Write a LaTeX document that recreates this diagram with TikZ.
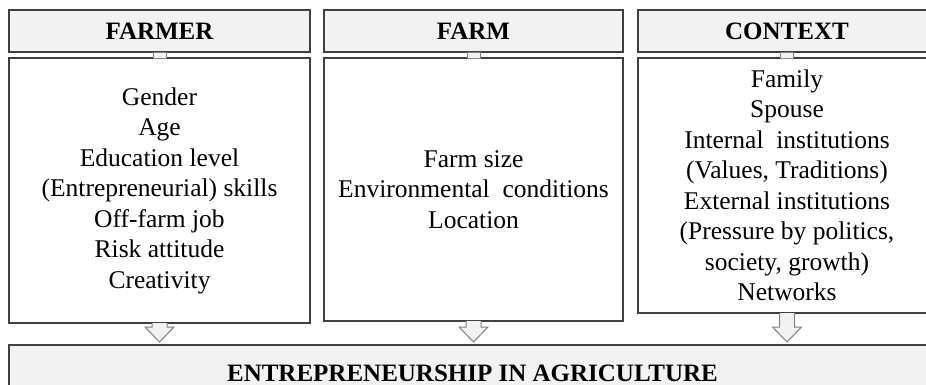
\documentclass[tikz,border=0pt]{standalone}
\usepackage{fontspec}
\setmainfont{Liberation Serif}
\usetikzlibrary{calc}

\definecolor{boxline}{HTML}{404040}
\definecolor{headfill}{HTML}{F2F2F2}
\definecolor{arrowline}{HTML}{808080}

\begin{document}
\begin{tikzpicture}[x=1pt,y=-1pt,
  every node/.style={inner sep=0pt,outer sep=0pt},
  headbox/.style={draw=boxline,fill=headfill,line width=1.1pt,minimum height=42pt,
    font=\fontsize{25}{30}\selectfont\bfseries},
  itembox/.style={draw=boxline,fill=white,line width=1.1pt,align=center,
    font=\fontsize{25.5}{30.5}\selectfont},
  blockarrow/.style={draw=arrowline,fill=headfill,line width=1pt,line join=miter}]
\useasboundingbox (0,0) rectangle (926,385);
\clip (0,0) rectangle (926,385);

% the three columns
\node[headbox,minimum width=301pt] (farmer) at (159.5,31) {FARMER};
\node[headbox,minimum width=299pt] (farm) at (473.5,31) {FARM};
\node[headbox,minimum width=298pt] (context) at (787,31) {CONTEXT};

\node[itembox,minimum width=301pt,minimum height=265pt] (farmerbox) at (159.5,190.5)
 {Gender\\ Age\\ Education level\\ (Entrepreneurial) skills\\ Off-farm job\\ Risk attitude\\ Creativity};
\node[itembox,minimum width=299pt,minimum height=263pt] (farmbox) at (473.5,189.5)
 {Farm size\\ Environmental\ \ conditions\\ Location};
\node[itembox,minimum width=298pt,minimum height=255pt] (contextbox) at (787,185.5)
 {Family\\ Spouse\\ Internal\ \ institutions\\ (Values,\ Traditions)\\ External institutions\\
  (Pressure by politics,\\ society,\ growth)\\ Networks};

% result box
\node[headbox,minimum width=927pt,minimum height=56pt] (agri) at (472.5,373)
 {ENTREPRENEURSHIP IN AGRICULTURE};

% small joints between heads and boxes
\foreach \col in {farmer,farm,context}{
  \draw[draw=arrowline,fill=headfill,line width=0.8pt]
    ([xshift=-6.5pt]\col.south) rectangle ([xshift=6.5pt]\col box.north);
}

% block arrows down to the result
\foreach \col in {farmer,farm,context}{
  \draw[blockarrow] ([xshift=-7.5pt]\col box.south)
    -- ([xshift=-7.5pt]\col box.south |- 0,327)
    -- ([xshift=-14.5pt]\col box.south |- 0,327)
    -- (\col box.south |- 0,342)
    -- ([xshift=14.5pt]\col box.south |- 0,327)
    -- ([xshift=7.5pt]\col box.south |- 0,327)
    -- ([xshift=7.5pt]\col box.south);
}
\end{tikzpicture}
\end{document}
